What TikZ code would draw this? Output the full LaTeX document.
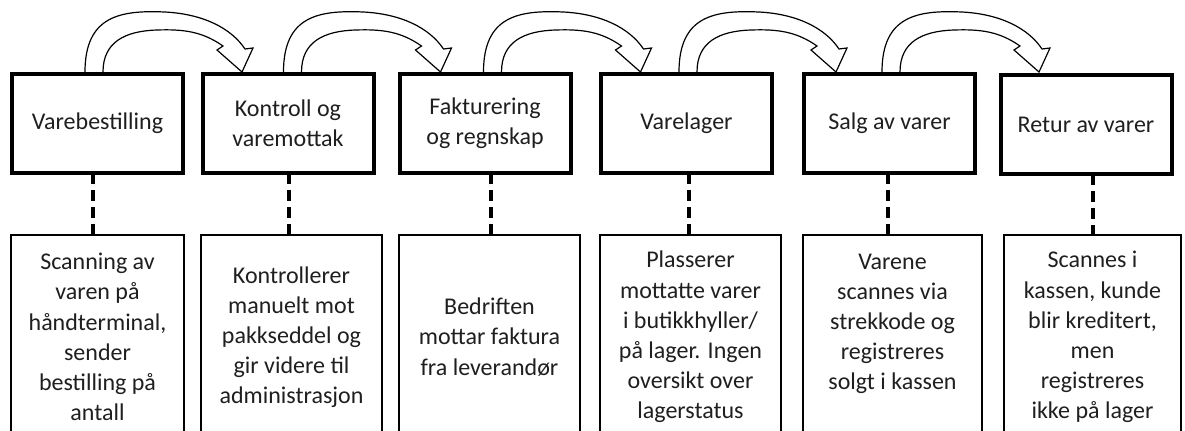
\documentclass[tikz,border=0pt]{standalone}
\usepackage{fontspec}
\setmainfont{Carlito}
\usetikzlibrary{calc}
\begin{document}
\begin{tikzpicture}[x=0.75pt,y=-0.75pt,
  txt/.style={font=\fontsize{18}{22.5}\selectfont, text=black!88, align=center},
  stepbox/.style={txt, draw=black, line width=3pt, fill=white,
    minimum width=128.25pt, minimum height=74.25pt, inner sep=0pt, outer sep=0pt},
  notebox/.style={txt, font=\fontsize{18}{22.6}\selectfont, draw=black, line width=1.5pt, fill=white,
    minimum height=153pt, inner sep=0pt, outer sep=0pt},
  link/.style={draw=black, line width=3pt, dash pattern=on 8.25pt off 4.5pt},
  flow/.style={draw=black, line width=0.9pt, fill=white, line join=miter}
]
\useasboundingbox (0,0) rectangle (1185,430);
\clip (0,0) rectangle (1185,430);

% process steps
\node[stepbox] (t1) at (97.5,123.5) {Varebestilling};
\node[stepbox] (t2) at (288,123.5) {Kontroll og\\varemottak};
\node[stepbox] (t3) at (485,123.5) {Fakturering\\og regnskap};
\node[stepbox] (t4) at (686.5,123.5) {Varelager};
\node[stepbox] (t5) at (889.5,123.5) {Salg av varer};
\node[stepbox] (t6) at (1086,124.5) {Retur av varer};

% descriptions below each step
\node[notebox, minimum width=129.75pt] (b1) at (97.5,337)
  {Scanning av\\varen på\\håndterminal,\\sender\\bestilling på\\antall};
\node[notebox, minimum width=135.75pt] (b2) at (291.5,337)
  {Kontrollerer\\manuelt mot\\pakkseddel og\\gir videre til\\administrasjon};
\node[notebox, minimum width=135.75pt] (b3) at (489.5,337)
  {Bedriften\\mottar faktura\\fra leverandør};
\node[notebox, minimum width=135.75pt] (b4) at (690.5,337)
  {Plasserer\\mottatte varer\\i butikkhyller/\\på lager. Ingen\\oversikt over\\lagerstatus};
\node[notebox, minimum width=134.25pt] (b5) at (892.5,337)
  {Varene\\scannes via\\strekkode og\\registreres\\solgt i kassen\\\mbox{}};
\node[notebox, minimum width=132.75pt] (b6) at (1092.5,337)
  {Scannes i\\kassen, kunde\\blir kreditert,\\men\\registreres\\ikke på lager};

% dashed links from each step to its description
\foreach \i/\o in {1/81, 2/86, 3/91, 4/88, 5/84, 6/92} {
  \draw[link] ($(t\i.south west)+(\o,0)$) coordinate (d\i) -- (d\i |- b\i.north);
}

% curved block arrows between consecutive steps
\foreach \s/\o in {t1/73, t2/81, t3/84, t4/78, t5/78} {
  \begin{scope}[shift={($(\s.north west)+(\o,-2)$)}]
    \path[flow] (0,3) -- (0,0)
      .. controls (0,-56) and (35,-62) .. (80,-60)
      .. controls (118,-58) and (146,-44) .. (160,-23)
      -- (168,-24) -- (157,0) -- (132,-22) -- (138,-26)
      .. controls (118,-40) and (100,-43) .. (72,-42)
      .. controls (40,-41) and (18,-30) .. (18,0) -- (18,3);
  \end{scope}
}

% redraw step borders over the arrow bases
\foreach \i in {1,...,6} {
  \draw[line width=3pt] (t\i.north west) rectangle (t\i.south east);
}
\end{tikzpicture}
\end{document}
